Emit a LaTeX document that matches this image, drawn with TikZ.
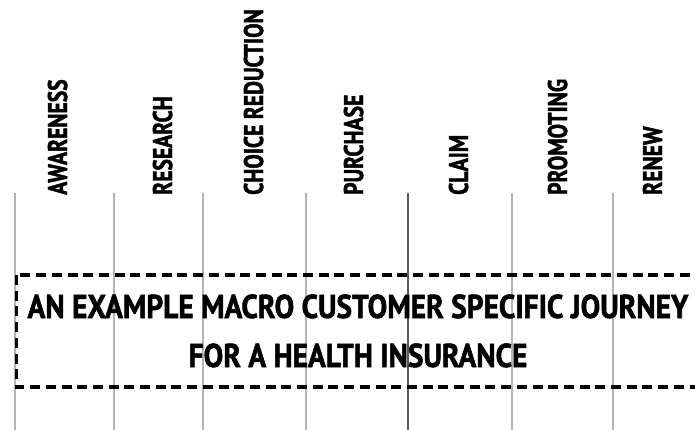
\documentclass[tikz,border=0pt]{standalone}
\usepackage{fontspec}
\newfontfamily\stagefont[FakeStretch=0.80, FakeBold=1.6]{PT Sans Bold}
\newfontfamily\journeyfont[FakeStretch=0.89, FakeBold=1.6]{PT Sans Bold}
\usepackage{tikz}

\definecolor{rulegray}{HTML}{B4B4B4}
\definecolor{darkrule}{HTML}{5A5A5A}

\tikzset{
	stage/.style={rotate=90, anchor=base west, inner sep=0pt, font=\stagefont\fontsize{27}{29}\selectfont},
	title/.style={anchor=base, inner sep=0pt, font=\journeyfont\fontsize{33}{38}\selectfont},
	phase/.style={draw=rulegray, line width=1.5pt},
	journeybox/.style={draw=black, line width=3.5pt, dash pattern=on 10pt off 5.7pt},
}

\begin{document}
\begin{tikzpicture}[x=1pt, y=-1pt]
			\clip (0,0) rectangle (695,430);
			\fill[white] (0,0) rectangle (695,430);
			
			% stage separators
			\coordinate (s1) at (15,193);
			\coordinate (s2) at (114,193);
			\coordinate (s3) at (203,193);
			\coordinate (s4) at (306,193);
			\coordinate (s5) at (408,193);
			\coordinate (s6) at (512,193);
			\coordinate (s7) at (613,193);
			\path[phase] (s1) edge (15,430);
			\path[phase] (s2) edge (114,430);
			\path[phase] (s3) edge (203,430);
			\path[phase] (s4) edge (306,430);
			\path[phase] (s5) edge[draw=darkrule] (408,430);
			\path[phase] (s6) edge (512,430);
			\path[phase] (s7) edge (613,430);
			
			% stage names
			\node[stage] (awareness) at (67,195){AWARENESS};
			\node[stage] (research) at (172,195){RESEARCH};
			\node[stage] (choice) at (263,195){CHOICE REDUCTION};
			\node[stage] (purchase) at (363,195){PURCHASE};
			\node[stage] (claim) at (468,195){CLAIM};
			\node[stage] (promoting) at (567,195){PROMOTING};
			\node[stage] (renew) at (662,195){RENEW};
			
			% journey box
			\path[journeybox] (16.5,275) rectangle (720,387);
			\node[title] (line1) at (358,318){AN EXAMPLE MACRO CUSTOMER SPECIFIC JOURNEY};
			\node[title] (line2) at (358,367){FOR A HEALTH INSURANCE};
\end{tikzpicture}
\end{document}
